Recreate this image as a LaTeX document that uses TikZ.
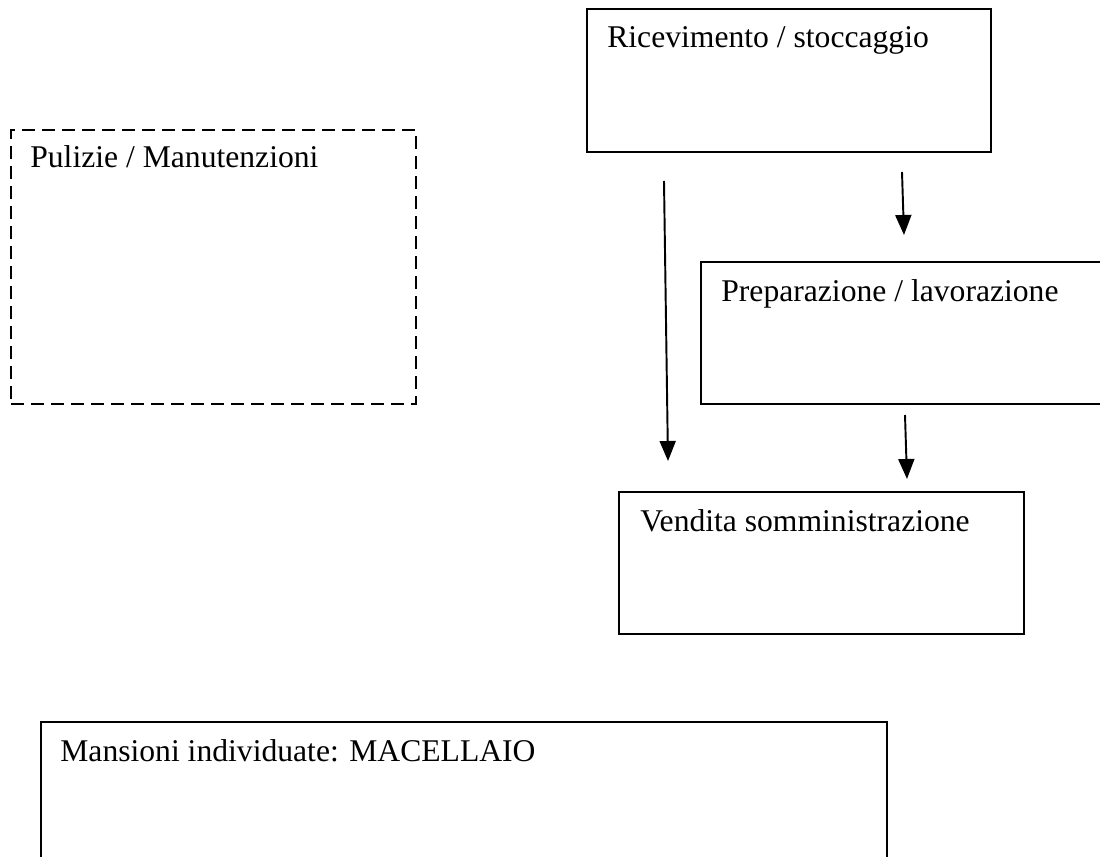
\documentclass[tikz,border=0pt]{standalone}
\usepackage{fontspec}
\setmainfont{Liberation Serif}
\usetikzlibrary{arrows.meta}
\tikzset{
  box/.style={draw, rectangle, line width=1.1pt, inner sep=0pt, anchor=north west},
  dashbox/.style={box, dash pattern=on 0.26cm off 0.14cm},
  lbl/.style={anchor=base west, inner sep=0pt, font=\fontsize{18}{22}\selectfont},
  flow/.style={line width=1.1pt, -{Triangle[length=0.4cm, width=0.32cm]}}
}
\begin{document}
\begin{tikzpicture}[x=0.02cm, y=-0.02cm]
      \useasboundingbox (0,0) rectangle (1100,857);
      \node[box, minimum width=8.08cm, minimum height=2.86cm] (recv) at (586,8) {};
      \node[dashbox, minimum width=8.10cm, minimum height=5.48cm] (clean) at (10,129) {};
      \node[box, minimum width=8.10cm, minimum height=2.84cm] (prep) at (700,261) {};
      \node[box, minimum width=8.10cm, minimum height=2.84cm] (sale) at (618,491) {};
      \node[box, minimum width=16.92cm, minimum height=2.98cm] (duties) at (40,721) {};
      \node[lbl] (recvtxt) at (607,48) {Ricevimento / stoccaggio};
      \node[lbl] (cleantxt) at (30,168) {Pulizie / Manutenzioni};
      \node[lbl] (preptxt) at (721,302) {Preparazione / lavorazione};
      \node[lbl] (saletxt) at (640,532) {Vendita somministrazione};
      \node[lbl] (dutiestxt) at (60,762) {Mansioni individuate: MACELLAIO};
      \coordinate (longstart) at (664,181);
      \coordinate (longend) at (668,461);
      \coordinate (recvout) at (902,172);
      \coordinate (prepin) at (904,235);
      \coordinate (prepout) at (905,415);
      \coordinate (salein) at (907,479);
      \begin{scope}[flow]
        \draw (longstart) to (longend);
        \draw (recvout) to (prepin);
        \draw (prepout) to (salein);
      \end{scope}
    \end{tikzpicture}
\end{document}
